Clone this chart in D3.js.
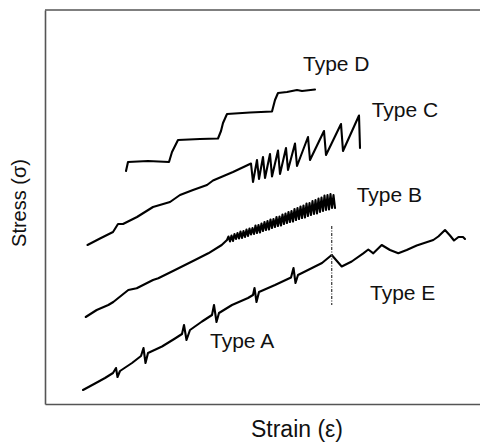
<!DOCTYPE html>
<html>
<head>
<meta charset="utf-8">
<script src="https://cdn.jsdelivr.net/npm/d3@7/dist/d3.min.js"></script>
<style>
  html, body { margin: 0; padding: 0; background: #fff; }
  svg { display: block; }
  text { font-family: "Liberation Sans", Arial, sans-serif; fill: #111; }
</style>
</head>
<body>
<svg id="chart" width="480" height="444"></svg>
<script>
// Schematic stress–strain curves for the serration types (arbitrary units).
// Each series is a list of [strain, stress] pairs.

const typeD = [
  [81, 233], [83, 242], [103, 243], [124, 242], [127, 252], [133, 264],
  [155, 265], [173, 265.5], [176, 273], [178, 281], [182, 290], [205, 291.5],
  [227, 292.5], [230, 304], [233, 311], [242, 312], [247, 313], [252, 314],
  [257, 313], [270, 314.5]
];

const typeC = [
  [42.5, 159], [55, 165.5], [68, 172], [73, 180], [78, 180], [92, 187],
  [108, 197], [125, 202], [135, 209], [148, 214], [162, 219], [168, 223.5],
  [188, 232], [206, 240.5],
  [208, 222], [212, 244], [214, 225], [218, 247], [220, 226], [225, 250],
  [227, 227.5], [233, 253.5], [235, 230], [241, 256], [243, 234], [250, 260.5],
  [252, 238], [263, 267], [265, 244], [279, 273], [281, 249], [296, 280],
  [298, 253], [314, 288.5], [315, 256]
];

const typeB = [
  [40.7, 87], [51.7, 94], [63.3, 99], [68.3, 102], [83.3, 114], [91.7, 115.7],
  [108, 124], [113.3, 125.7], [130, 134], [150, 144], [163.3, 150.7],
  [176.7, 159], [182, 164],
  [183.5, 167.5], [185, 162.5], [186.5, 168.5], [188, 163], [189.5, 170],
  [191, 165], [192.5, 171], [194, 165.5], [195.5, 172.5], [197, 166],
  [198.5, 173], [200, 167], [201.5, 174.5], [203, 168], [204.5, 175.5],
  [206, 169.5], [207.5, 176], [209, 170], [210.5, 178.5], [212, 171],
  [213.5, 179], [215, 171.5], [216.5, 180.5], [218, 173], [219.5, 182],
  [221, 174], [222.5, 183], [224, 174.5], [225.5, 184.5], [227, 176],
  [228.5, 185], [230, 177], [231.5, 187], [233, 178], [234.5, 187.5],
  [236, 178.5], [237.5, 189.5], [239, 180], [240.5, 190.5], [242, 181],
  [243.5, 192], [245, 182], [246.5, 193], [248, 182.5], [249.5, 195],
  [251, 184], [252.5, 196], [254, 185], [255.5, 197.5], [257, 186],
  [258.5, 198.5], [260, 186.5], [261.5, 200.5], [263, 188], [264.5, 201],
  [266, 189], [267.5, 203], [269, 190], [270.5, 204], [272, 190.5],
  [273.5, 205.5], [275, 192], [276.5, 206.5], [278, 193], [279.5, 208.5],
  [281, 194], [282.5, 209], [284, 194.5], [285.5, 210], [287, 196],
  [288.5, 209], [290, 196]
];

const typeA = [
  [38, 14], [50, 20.5], [60, 26], [68, 31], [71, 36], [72.5, 27], [75, 33],
  [87, 41], [96, 48], [98.5, 56], [100.5, 41], [103, 51], [117, 57.5],
  [130, 65.5], [137, 70], [139, 79], [141.5, 64], [145, 74], [157, 82.5],
  [167, 89], [169, 99], [171.5, 82], [174, 91], [187, 99], [203, 106],
  [208, 109], [209.5, 116], [211.5, 102], [214, 112], [230, 119],
  [246, 126.5], [248.5, 136], [250.5, 121], [253, 129], [263, 134],
  [277, 141], [286.7, 149]
];

const typeE = [
  [286.7, 149], [296.7, 137.5], [306.7, 142.5], [318.3, 150.7], [323.3, 154.5],
  [328.3, 150.7], [336.7, 159], [345, 154], [353.3, 150.7], [361.7, 154],
  [371.7, 158.5], [388.3, 164], [393.3, 167.5], [400, 174], [405, 168.5],
  [409, 163.5], [413.5, 167], [418, 167], [420, 165]
];

// Strain at which Type A turns into Type E, and the stress span of its marker
const transitionStrain = 286.7;
const transitionStress = [99, 178];

// Curve labels: text and the [strain, stress] point where each begins
const labelNames = ["Type D", "Type C", "Type B", "Type E", "Type A"];
const labelAnchors = [[258, 333.3], [326.7, 287.3], [311.7, 202.3], [325, 104], [165, 55.7]];

const xTitle = "Strain (\u03b5)";
const yTitle = "Stress (\u03c3)";

const svg = d3.select("#chart");
const margin = { left: 45, right: 0, top: 10, bottom: 40 };
const W = 480, H = 444;

const x = d3.scaleLinear().domain([0, 435]).range([margin.left, W - margin.right]);
const y = d3.scaleLinear().domain([0, 394]).range([H - margin.bottom, margin.top]);

// Frame: left and bottom axes without ticks, plus the top rule
const frame = svg.append("g").attr("stroke", "#555").attr("stroke-width", 1.6).attr("fill", "none");
const xAxis = d3.axisBottom(x).tickValues([]).tickSizeOuter(0);
const yAxis = d3.axisLeft(y).tickValues([]).tickSizeOuter(0);
svg.append("g").attr("transform", `translate(0,${y(0)})`).call(xAxis)
  .select(".domain").attr("stroke", "#555").attr("stroke-width", 1.6);
svg.append("g").attr("transform", `translate(${x(0)},0)`).call(yAxis)
  .select(".domain").attr("stroke", "#555").attr("stroke-width", 1.6);
frame.append("line")
  .attr("x1", x(0)).attr("x2", x(435))
  .attr("y1", y(394)).attr("y2", y(394));

// Curves
const line = d3.line().x(d => x(d[0])).y(d => y(d[1]));
const series = [typeD, typeC, typeB, typeA, typeE];
svg.append("g")
  .selectAll("path")
  .data(series)
  .join("path")
  .attr("d", line)
  .attr("fill", "none")
  .attr("stroke", "#000")
  .attr("stroke-width", 2.1)
  .attr("stroke-linejoin", "round")
  .attr("stroke-linecap", "round");

// Transition marker between Type A and Type E
svg.append("line")
  .attr("x1", x(transitionStrain)).attr("x2", x(transitionStrain))
  .attr("y1", y(transitionStress[1])).attr("y2", y(transitionStress[0]))
  .attr("stroke", "#444")
  .attr("stroke-width", 1.3)
  .attr("stroke-dasharray", "3,1.5,1,1.5");

// Curve labels
svg.append("g")
  .selectAll("text")
  .data(labelNames)
  .join("text")
  .attr("x", (d, i) => x(labelAnchors[i][0]))
  .attr("y", (d, i) => y(labelAnchors[i][1]))
  .attr("font-size", 21)
  .text(d => d);

// Axis titles
svg.append("text")
  .attr("x", 297).attr("y", 437)
  .attr("text-anchor", "middle")
  .attr("font-size", 23)
  .text(xTitle);

svg.append("text")
  .attr("transform", `translate(26,203) rotate(-90)`)
  .attr("text-anchor", "middle")
  .attr("font-size", 20)
  .text(yTitle);
</script>
</body>
</html>
